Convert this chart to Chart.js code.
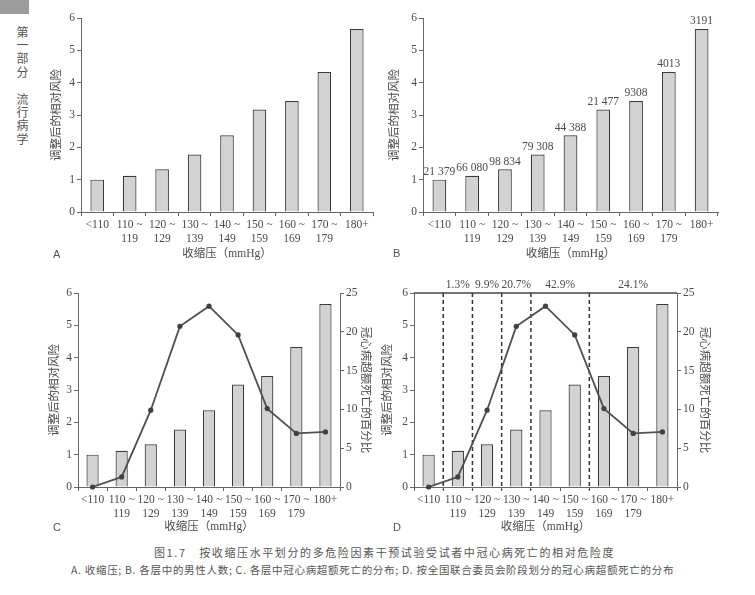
<!DOCTYPE html>
<html lang="zh">
<head>
<meta charset="utf-8">
<title>按收缩压水平划分的冠心病死亡相对危险度</title>
<script src="https://cdn.jsdelivr.net/npm/chart.js@4.4.1/dist/chart.umd.min.js"></script>
<style>
  html, body { margin: 0; padding: 0; background: #fff; }
  #page { position: relative; width: 755px; height: 595px; overflow: hidden; color: #555; font-family: 'Noto Sans CJK SC', sans-serif; }
  canvas { position: absolute; }
  .tab { position: absolute; left: 0; top: 0; width: 29px; height: 14px; background: #9c9c9c; }
  .side { position: absolute; left: 15px; top: 26px; writing-mode: vertical-rl; font-size: 12px; letter-spacing: 1.4px; line-height: 14px; color: #555; }
  .letter { position: absolute; font-family: 'Liberation Sans', sans-serif; font-size: 11px; line-height: 14px; color: #555; }
  .cap { position: absolute; white-space: nowrap; color: #555; }
  .cap1 { left: 154px; top: 544px; font-size: 11px; letter-spacing: 1.6px; line-height: 16px; }
  .cap2 { left: 71px; top: 562px; font-size: 10.5px; letter-spacing: 0.7px; line-height: 15px; }
</style>
</head>
<body>
<div id="page">
  <div class="tab"></div>
  <div class="side">第一部分　流行病学</div>

  <canvas id="chartA" width="360" height="268" style="left:20px;top:0px;"></canvas>
  <canvas id="chartB" width="360" height="268" style="left:375px;top:0px;"></canvas>
  <canvas id="chartC" width="360" height="265" style="left:20px;top:275px;"></canvas>
  <canvas id="chartD" width="360" height="275" style="left:375px;top:265px;"></canvas>

  <div class="letter" style="left:53px;top:247px;">A</div>
  <div class="letter" style="left:393px;top:246px;">B</div>
  <div class="letter" style="left:53px;top:520px;">C</div>
  <div class="letter" style="left:393px;top:520px;">D</div>

  <div class="cap cap1">图1.7　按收缩压水平划分的多危险因素干预试验受试者中冠心病死亡的相对危险度</div>
  <div class="cap cap2">A. 收缩压; B. 各层中的男性人数; C. 各层中冠心病超额死亡的分布; D. 按全国联合委员会阶段划分的冠心病超额死亡的分布</div>
</div>

<script>
// 收缩压分层
const categories = [['<110'], ['110 ~', '119'], ['120 ~', '129'], ['130 ~', '139'], ['140 ~', '149'],
                    ['150 ~', '159'], ['160 ~', '169'], ['170 ~', '179'], ['180+']];
// 调整后的相对风险
const relativeRisk = [1.0, 1.12, 1.32, 1.78, 2.37, 3.17, 3.43, 4.33, 5.66];
// 各层中的男性人数
const menCounts = ['21 379', '66 080', '98 834', '79 308', '44 388', '21 477', '9308', '4013', '3191'];
// 冠心病超额死亡的百分比
const excessDeathPct = [0, 1.3, 9.9, 20.7, 23.3, 19.6, 10.1, 6.9, 7.1];
// 全国联合委员会阶段（起止分层序号）
const jncLabels = ['1.3%', '9.9%', '20.7%', '42.9%', '24.1%'];
const jncFirst = [1, 2, 3, 4, 6];
const jncLast = [1, 2, 3, 5, 8];

const riskTicks = [0, 6, 1];
const pctTicks = [0, 25, 5];
const xTitle = '收缩压（mmHg）';
const yTitle = '调整后的相对风险';
const y2Title = '冠心病超额死亡的百分比';

const textColor = '#4a4a4a';
const axisColor = '#666';
const fontFamily = "'Liberation Serif', 'Noto Sans CJK SC', serif";
const fontSize = 11.5;
const lh = fontSize * 1.2;

Chart.defaults.animation = false;
Chart.defaults.plugins.legend.display = false;
Chart.defaults.plugins.tooltip.enabled = false;

// g: canvas size + wanted chart area / title centres, in canvas pixels
function makeScales(g, withRight) {
    const font = { family: fontFamily, size: fontSize };
    const scales = {
        x: {
            type: 'category',
            offset: true,
            grid: { offset: true, drawOnChartArea: false, drawTicks: true, tickLength: 4, color: axisColor },
            border: { color: axisColor, width: 1 },
            ticks: { color: textColor, font: font, padding: 2, autoSkip: false, maxRotation: 0 },
            title: { display: true, text: xTitle, color: textColor, font: font,
                     padding: { top: 0, bottom: g.h - g.xt - lh / 2 } },
            afterFit: s => { s.height = g.h - g.b; }
        },
        y: {
            position: 'left',
            min: riskTicks[0], max: riskTicks[1],
            grid: { drawOnChartArea: false, tickLength: 4, color: axisColor },
            border: { color: axisColor, width: 1 },
            ticks: { stepSize: riskTicks[2], color: textColor, font: font, padding: 2 },
            title: { display: true, text: yTitle, color: textColor, font: font,
                     padding: { top: g.yt - lh / 2, bottom: 0 } },
            afterFit: s => { s.width = g.l; }
        }
    };
    if (withRight) {
        scales.y2 = {
            position: 'right',
            min: pctTicks[0], max: pctTicks[1],
            grid: { drawOnChartArea: false, tickLength: 4, color: axisColor },
            border: { color: axisColor, width: 1 },
            ticks: { stepSize: pctTicks[2], color: textColor, font: font, padding: 2 },
            title: { display: true, text: y2Title, color: textColor, font: font,
                     padding: { top: g.w - g.y2t - lh / 2, bottom: 0 } },
            afterFit: s => { s.width = g.w - g.r; }
        };
    }
    return scales;
}

function makeOptions(g, withRight) {
    return {
        responsive: false,
        layout: { padding: { left: 0, top: g.t, right: withRight ? 0 : g.w - g.r, bottom: 0 } },
        scales: makeScales(g, withRight)
    };
}

function barSet() {
    return {
        type: 'bar',
        data: relativeRisk,
        yAxisID: 'y',
        order: 1,
        backgroundColor: '#d2d2d2',
        borderColor: '#3a3a3a',
        borderWidth: 1.2,
        categoryPercentage: 1,
        barPercentage: 0.42
    };
}

function lineSet() {
    return {
        type: 'line',
        data: excessDeathPct,
        yAxisID: 'y2',
        order: 0,
        borderColor: '#505050',
        borderWidth: 1.8,
        pointRadius: 2.6,
        pointBackgroundColor: '#404040',
        pointBorderWidth: 0,
        tension: 0,
        clip: false
    };
}

// B：柱顶的人数
const menCountLabels = {
    id: 'menCountLabels',
    afterDatasetsDraw(chart) {
        const ctx = chart.ctx;
        ctx.save();
        ctx.font = fontSize + 'px ' + fontFamily;
        ctx.fillStyle = textColor;
        ctx.textAlign = 'center';
        ctx.textBaseline = 'bottom';
        chart.getDatasetMeta(0).data.forEach((bar, i) => {
            ctx.fillText(menCounts[i], bar.x, bar.y - 2);
        });
        ctx.restore();
    }
};

// D：阶段分隔虚线、顶框与百分比
const jncStages = {
    id: 'jncStages',
    beforeDatasetsDraw(chart) {
        const { ctx, chartArea } = chart;
        const x = chart.scales.x;
        ctx.save();
        ctx.strokeStyle = '#333';
        ctx.lineWidth = 1.5;
        ctx.setLineDash([4, 3]);
        jncFirst.forEach(i => {
            const px = (x.getPixelForValue(i - 1) + x.getPixelForValue(i)) / 2;
            ctx.beginPath();
            ctx.moveTo(px, chartArea.top);
            ctx.lineTo(px, chartArea.bottom + 3);
            ctx.stroke();
        });
        ctx.restore();
    },
    afterDraw(chart) {
        const { ctx, chartArea } = chart;
        const x = chart.scales.x;
        ctx.save();
        ctx.strokeStyle = '#444';
        ctx.lineWidth = 1.3;
        ctx.beginPath();
        ctx.moveTo(chartArea.left, chartArea.top);
        ctx.lineTo(chartArea.right, chartArea.top);
        ctx.stroke();
        ctx.font = fontSize + 'px ' + fontFamily;
        ctx.fillStyle = textColor;
        ctx.textAlign = 'center';
        ctx.textBaseline = 'middle';
        jncLabels.forEach((t, k) => {
            const px = (x.getPixelForValue(jncFirst[k]) + x.getPixelForValue(jncLast[k])) / 2;
            ctx.fillText(t, px, chartArea.top - 8);
        });
        ctx.restore();
    }
};

new Chart(document.getElementById('chartA'), {
    type: 'bar',
    data: { labels: categories, datasets: [barSet()] },
    options: makeOptions({ w: 360, h: 268, l: 61, r: 353, t: 18, b: 212, xt: 254, yt: 37 }, false)
});

new Chart(document.getElementById('chartB'), {
    type: 'bar',
    data: { labels: categories, datasets: [barSet()] },
    options: makeOptions({ w: 360, h: 268, l: 48, r: 343, t: 18, b: 212, xt: 254, yt: 20 }, false),
    plugins: [menCountLabels]
});

new Chart(document.getElementById('chartC'), {
    type: 'bar',
    data: { labels: categories, datasets: [barSet(), lineSet()] },
    options: makeOptions({ w: 360, h: 265, l: 58, r: 320, t: 18, b: 212, xt: 252, yt: 35, y2t: 345 }, true)
});

new Chart(document.getElementById('chartD'), {
    type: 'bar',
    data: { labels: categories, datasets: [barSet(), lineSet()] },
    options: makeOptions({ w: 360, h: 275, l: 39, r: 302, t: 28, b: 222, xt: 262, yt: 13, y2t: 329 }, true),
    plugins: [jncStages]
});
</script>
</body>
</html>
